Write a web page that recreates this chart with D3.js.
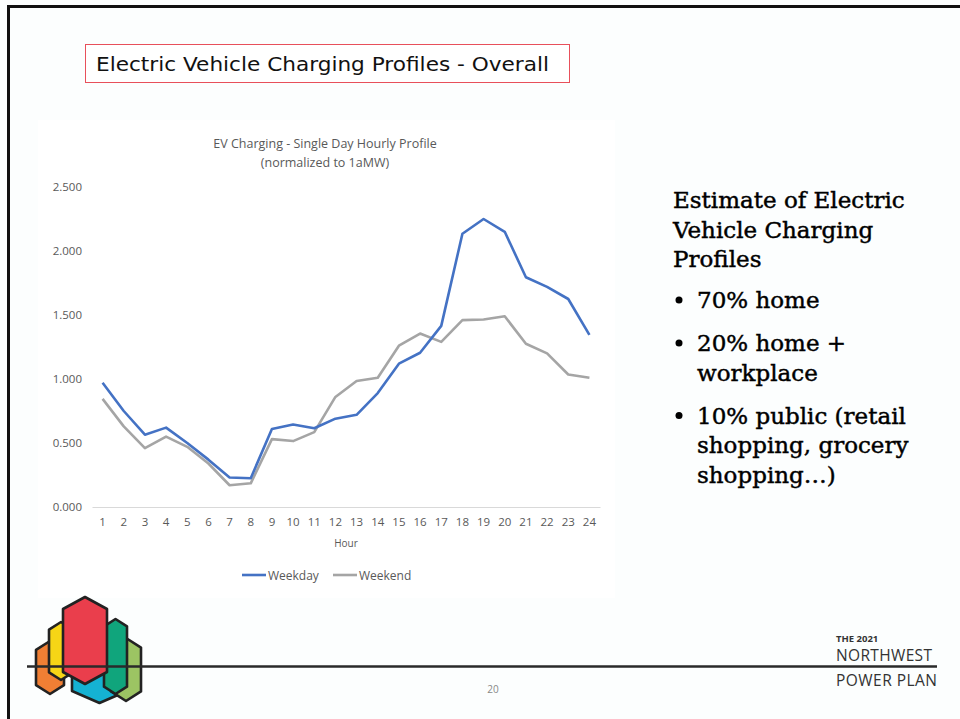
<!DOCTYPE html>
<html>
<head>
<meta charset="UTF-8">
<title>EV Charging Profiles</title>
<style>
body { margin: 0; background: #fcfefe; }
svg { display: block; }
.axis text { fill: #595959; font-family: "Open Sans", sans-serif; font-size: 11.5px; }
.chart-title { fill: #595959; font-family: "Open Sans", sans-serif; font-size: 12.5px; }
.line { fill: none; stroke-width: 2.6px; stroke-linejoin: round; }
.side { font-family: "DejaVu Serif", serif; fill: #000; stroke: #000; stroke-width: 0.45px; }
</style>
</head>
<body>
<script src="https://cdn.jsdelivr.net/npm/d3@7"></script>
<script>
// hourly profile, normalized to 1aMW
const hours = d3.range(1, 25);
const weekday = [0.97, 0.75, 0.565, 0.62, 0.50, 0.37, 0.23, 0.225, 0.61, 0.645, 0.615, 0.69,
                 0.72, 0.89, 1.12, 1.205, 1.415, 2.135, 2.25, 2.15, 1.795, 1.72, 1.625, 1.345];
const weekend = [0.845, 0.63, 0.46, 0.55, 0.47, 0.34, 0.17, 0.185, 0.53, 0.515, 0.585, 0.86,
                 0.985, 1.01, 1.26, 1.355, 1.29, 1.46, 1.465, 1.49, 1.275, 1.20, 1.035, 1.01];
const yTicks = [0, 0.5, 1, 1.5, 2, 2.5];
const seriesNames = ['Weekday', 'Weekend'];
const seriesColors = ['#4472c4', '#a5a5a5'];

const heading = ['Estimate of Electric', 'Vehicle Charging', 'Profiles'];
const bullets = [['70% home'], ['20% home +', 'workplace'], ['10% public (retail', 'shopping, grocery', 'shopping\u2026)']];

const width = 960, height = 719;

let svg = d3.select('body').append('svg')
    .attr('width', width)
    .attr('height', height);

// slide frame
svg.append('path')
    .attr('d', 'M8.5,' + height + ' V6.5 H' + width)
    .attr('fill', 'none')
    .attr('stroke', '#111')
    .attr('stroke-width', 3);

// title box
svg.append('rect')
    .attr('x', 85.5).attr('y', 44.5)
    .attr('width', 484).attr('height', 38)
    .attr('fill', '#fff')
    .attr('stroke', '#e8505b')
    .attr('stroke-width', 1);

svg.append('text')
    .attr('x', 96).attr('y', 71)
    .attr('font-family', '"DejaVu Sans", sans-serif')
    .attr('font-size', 20)
    .attr('textLength', 453)
    .attr('lengthAdjust', 'spacingAndGlyphs')
    .attr('fill', '#111')
    .text('Electric Vehicle Charging Profiles - Overall');

// chart area
svg.append('rect')
    .attr('x', 38).attr('y', 120)
    .attr('width', 577).attr('height', 478)
    .attr('fill', '#fff');

let x = d3.scaleBand()
    .domain(hours)
    .range([92, 600]);

let y = d3.scaleLinear()
    .domain([0, 2.5])
    .range([507, 187]);

svg.append('text')
    .attr('class', 'chart-title')
    .attr('x', 325).attr('y', 148)
    .attr('text-anchor', 'middle')
    .text('EV Charging - Single Day Hourly Profile');

svg.append('text')
    .attr('class', 'chart-title')
    .attr('x', 325).attr('y', 167)
    .attr('text-anchor', 'middle')
    .text('(normalized to 1aMW)');

let xAxis = d3.axisBottom(x).tickSize(0).tickPadding(11);
svg.append('g')
    .attr('class', 'axis')
    .attr('transform', 'translate(0,507)')
    .call(xAxis)
    .call(g => g.select('.domain').attr('stroke', '#d9d9d9').attr('stroke-width', 1.2));

let yAxis = d3.axisLeft(y).tickValues(yTicks).tickFormat(d3.format('.3f')).tickSize(0).tickPadding(10);
svg.append('g')
    .attr('class', 'axis')
    .attr('transform', 'translate(92,0)')
    .call(yAxis)
    .call(g => g.select('.domain').remove());

svg.append('text')
    .attr('x', 346).attr('y', 547)
    .attr('text-anchor', 'middle')
    .attr('font-family', '"Open Sans", sans-serif')
    .attr('font-size', 10)
    .attr('fill', '#595959')
    .text('Hour');

let line = d3.line()
    .x((d, i) => x(hours[i]) + x.bandwidth() / 2)
    .y(d => y(d));

[weekend, weekday].forEach((s, k) => {
    svg.append('path')
        .attr('class', 'line')
        .attr('stroke', seriesColors[1 - k])
        .attr('d', line(s));
});

// legend
let legendX = [242, 333];
seriesNames.forEach((name, i) => {
    let lg = svg.append('g').attr('transform', 'translate(' + legendX[i] + ',575)');
    lg.append('line')
        .attr('x1', 0).attr('x2', 24)
        .attr('stroke', seriesColors[i])
        .attr('stroke-width', 2.6);
    lg.append('text')
        .attr('x', 26).attr('y', 4.5)
        .attr('font-family', '"Open Sans", sans-serif')
        .attr('font-size', 12)
        .attr('fill', '#595959')
        .text(name);
});

// right hand text
heading.forEach((t, i) => {
    svg.append('text')
        .attr('class', 'side')
        .attr('x', 673).attr('y', 208 + i * 29.5)
        .attr('font-size', 23)
        .text(t);
});

let by = 308;
bullets.forEach((b, i) => {
    svg.append('circle')
        .attr('cx', 679).attr('cy', by - 8)
        .attr('r', 3.5)
        .attr('fill', '#000');
    b.forEach((t, j) => {
        svg.append('text')
            .attr('class', 'side')
            .attr('x', 697).attr('y', by + j * 29.5)
            .attr('font-size', 23)
            .text(t);
    });
    by += b.length * 29.5 + 13.5;
});

// logo
const hexes = [
    {x0: 36, x1: 64, top: 641, bot: 694, c: '#f07f34'},
    {x0: 49, x1: 73, top: 622, bot: 680, c: '#f6d516'},
    {x0: 72, x1: 127, top: 630, bot: 703, c: '#15b2d3'},
    {x0: 111, x1: 141, top: 638, bot: 701, c: '#9cc463'},
    {x0: 104, x1: 127, top: 619, bot: 694, c: '#10a57c'},
    {x0: 63, x1: 107, top: 597, bot: 684, c: '#ea3e4c'}
];
let logo = svg.append('g');
hexes.forEach(h => {
    let cx = (h.x0 + h.x1) / 2, cap = Math.min((h.x1 - h.x0) * 0.32, 12);
    logo.append('path')
        .attr('d', 'M' + h.x0 + ',' + (h.top + cap) + ' L' + cx + ',' + h.top + ' L' + h.x1 + ',' + (h.top + cap) +
            ' L' + h.x1 + ',' + (h.bot - cap) + ' L' + cx + ',' + h.bot + ' L' + h.x0 + ',' + (h.bot - cap) + 'Z')
        .attr('fill', h.c)
        .attr('stroke', '#222')
        .attr('stroke-width', 2.6)
        .attr('stroke-linejoin', 'round');
});

svg.append('line')
    .attr('x1', 27).attr('x2', 937)
    .attr('y1', 666.5).attr('y2', 666.5)
    .attr('stroke', '#2a2a2a')
    .attr('stroke-width', 2.5);

svg.append('text')
    .attr('x', 836).attr('y', 642)
    .attr('font-family', '"Open Sans", sans-serif')
    .attr('font-weight', 700)
    .attr('font-size', 9.5)
    .attr('fill', '#333')
    .text('THE 2021');

svg.append('text')
    .attr('x', 836).attr('y', 661)
    .attr('font-family', '"Open Sans", sans-serif')
    .attr('font-size', 15.5)
    .attr('textLength', 96)
    .attr('fill', '#333')
    .text('NORTHWEST');

svg.append('text')
    .attr('x', 836).attr('y', 686)
    .attr('font-family', '"Open Sans", sans-serif')
    .attr('font-size', 15.5)
    .attr('textLength', 101)
    .attr('fill', '#333')
    .text('POWER PLAN');

svg.append('text')
    .attr('x', 493).attr('y', 693)
    .attr('text-anchor', 'middle')
    .attr('font-family', '"Open Sans", sans-serif')
    .attr('font-size', 10)
    .attr('fill', '#888')
    .text('20');
</script>
</body>
</html>
